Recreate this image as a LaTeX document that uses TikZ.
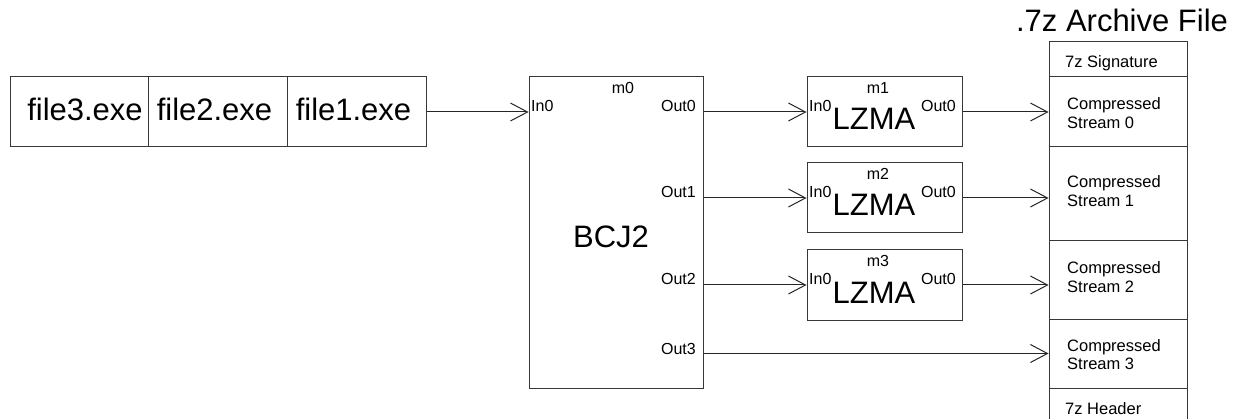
\documentclass[tikz,border=0pt]{standalone}
\usepackage{fontspec}
\setmainfont{Liberation Sans}
\usetikzlibrary{arrows.meta}
\begin{document}
\begin{tikzpicture}[x=1pt,y=-1pt,
  box/.style={draw=black!78, line width=1pt, rectangle, inner sep=0pt},
  big/.style={font=\fontsize{31}{37}\selectfont, inner sep=0pt},
  small/.style={font=\fontsize{16}{19}\selectfont, inner sep=0pt},
  arch/.style={font=\fontsize{16.5}{19}\selectfont, inner sep=0pt, anchor=base west},
  flow/.style={draw=black!85, line width=1pt, -{Straight Barb[length=17pt,width=18pt,line width=1pt]}}
]
\useasboundingbox (0,0) rectangle (1238,419);
% input files
\node[box, minimum width=138pt, minimum height=70pt] (f3) at (79,112) {};
\node[box, minimum width=139pt, minimum height=70pt] (f2) at (217.5,112) {};
\node[box, minimum width=139pt, minimum height=70pt] (f1) at (356.5,112) {};
\node[big, anchor=base] (t3) at (85,121) {file3.exe};
\node[big, anchor=base] (t2) at (214.5,121) {file2.exe};
\node[big, anchor=base] (t1) at (353.5,121) {file1.exe};
% BCJ2
\node[box, minimum width=174pt, minimum height=311pt] (bcj) at (616,232.5) {};
\node[big, anchor=base] (bcjt) at (611,248) {BCJ2};
\node[small, anchor=base] (m0) at (623,94) {m0};
\node[small, anchor=base west] (bin) at (531,112) {In0};
\node[small, anchor=base east] (bo0) at (696,112) {Out0};
\node[small, anchor=base east] (bo1) at (696,198) {Out1};
\node[small, anchor=base east] (bo2) at (696,285) {Out2};
\node[small, anchor=base east] (bo3) at (696,354) {Out3};
% LZMA coders
\foreach \n/\y in {1/112,2/198,3/285}{
  \node[box, minimum width=155pt, minimum height=70pt] (m\n) at (884.5,\y) {};
  \node[small, anchor=base] (m\n t) at (878,\y-18) {m\n};
  \node[big, anchor=base] (lz\n) at (874,\y+18) {LZMA};
  \node[small, anchor=base west] (li\n) at (809,\y) {In0};
  \node[small, anchor=base east] (lo\n) at (956,\y) {Out0};
}
% archive
\node[big, anchor=base] (title) at (1122,32) {.7z Archive File};
\node[box, minimum width=138pt, minimum height=35pt] (sig) at (1118,59.5) {};
\node[box, minimum width=138pt, minimum height=70pt] (s0) at (1118,112) {};
\node[box, minimum width=138pt, minimum height=94pt] (s1) at (1118,194) {};
\node[box, minimum width=138pt, minimum height=78pt] (s2) at (1118,280) {};
\node[box, minimum width=138pt, minimum height=69pt] (s3) at (1118,353.5) {};
\node[box, minimum width=138pt, minimum height=44pt] (hdr) at (1118,410) {};
\node[arch] (sigt) at (1065,68) {7z Signature};
\foreach \k/\y in {0/110,1/188,2/274,3/351}{
  \node[arch] (c\k) at (1067,\y) {Compressed};
  \node[arch] (st\k) at (1067,\y+18.5) {Stream \k};
}
\node[arch] (hdrt) at (1065,414) {7z Header};
% connectors
\draw[flow] (f1.east) -- (f1.east -| bcj.west);
\draw[flow] (bcj.east |- m1.west) -- (m1.west);
\draw[flow] (bcj.east |- m2.west) -- (m2.west);
\draw[flow] (bcj.east |- m3.west) -- (m3.west);
\draw[flow] (bcj.east |- s3.west) -- (s3.west);
\draw[flow] (m1.east) -- (m1.east -| s0.west);
\draw[flow] (m2.east) -- (m2.east -| s1.west);
\draw[flow] (m3.east) -- (m3.east -| s2.west);
\end{tikzpicture}
\end{document}
